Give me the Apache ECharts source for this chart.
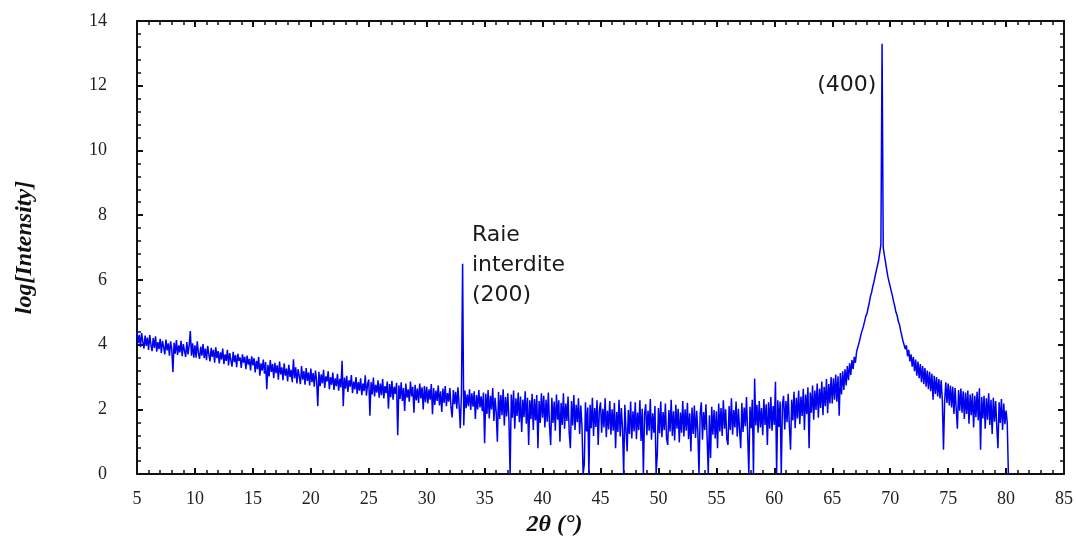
<!DOCTYPE html>
<html><head><meta charset="utf-8">
<script src="https://cdn.jsdelivr.net/npm/echarts@6/dist/echarts.min.js"></script>
<style>html,body{margin:0;padding:0;background:#fff}#c{width:1076px;height:542px}</style>
</head><body><div id="c"></div>
<script>
// axes
const xRange = [5, 85], xInterval = 5;
const yRange = [0, 14], yInterval = 2;
const xTitle = '2θ (°)';
const yTitle = 'log[Intensity]';
// sampling grid of the scan (degrees 2θ)
const scanStart = 5.0, scanStep = 0.1;

// log intensity, 0.1° steps, one array per 5° block
const logI_05 = [4.42,4.05,4.30,3.92,4.36,4.10,3.88,4.28,3.96,4.22, 3.84,4.30,4.00,3.80,4.20,3.90,4.26,3.78,4.08,3.86,
  4.18,3.74,4.12,3.92,3.70,4.16,3.82,4.04,3.66,4.10, 3.86,3.15,4.06,3.72,4.14,3.68,3.98,3.76,4.12,3.64,
  4.02,3.80,3.62,4.08,3.70,3.96,4.42,3.66,4.04,3.60];
const logI_10 = [3.98,3.60,4.10,3.74,3.56,3.94,3.66,4.02,3.58,3.88, 3.52,3.96,3.70,3.48,3.90,3.62,3.84,3.44,3.92,3.58,
  3.80,3.42,3.76,3.54,3.88,3.40,3.70,3.50,3.84,3.36, 3.74,3.52,3.32,3.78,3.46,3.68,3.30,3.72,3.50,3.60,
  3.28,3.70,3.44,3.62,3.24,3.66,3.38,3.56,3.20,3.64];
const logI_15 = [3.36,3.58,3.14,3.50,3.24,3.62,3.04,3.42,3.20,3.54, 3.10,3.46,2.62,3.38,3.02,3.52,3.16,3.40,2.96,3.44,
  3.12,3.36,2.92,3.48,3.08,3.30,2.90,3.42,3.04,3.26, 2.86,3.38,3.00,3.22,2.84,3.55,2.96,3.30,2.80,3.24,
  3.02,2.78,3.34,2.92,3.18,2.76,3.28,2.88,3.14,2.74];
const logI_20 = [3.26,2.84,3.12,2.70,3.20,2.90,2.10,3.16,2.72,3.08, 2.80,3.22,2.66,3.02,2.86,3.18,2.62,3.00,2.76,3.14,
  2.60,2.96,2.72,3.10,2.58,2.94,2.68,3.50,2.10,2.98, 2.64,3.04,2.54,2.90,2.70,3.06,2.50,2.86,2.62,3.00,
  2.48,2.84,2.58,2.96,2.44,2.80,2.56,3.05,2.42,2.78];
const logI_25 = [2.92,1.80,2.84,2.46,2.98,2.40,2.76,2.52,2.90,2.36, 2.80,2.44,2.94,2.34,2.72,2.50,2.86,2.02,2.78,2.38,
  2.88,2.30,2.70,2.48,2.82,1.20,2.74,2.32,2.84,2.26, 2.66,1.95,2.80,2.36,2.62,2.24,2.86,2.40,2.70,1.90,
  2.76,2.28,2.64,2.20,2.80,2.34,2.68,2.00,2.72,2.22];
const logI_30 = [2.70,2.18,2.62,2.30,2.78,1.85,2.66,2.14,2.58,2.26, 2.74,2.12,2.56,1.92,2.64,2.20,2.72,2.10,2.50,2.24,
  2.66,2.06,1.75,2.60,2.16,2.54,2.02,2.68,2.12,1.42, 2.48,6.50,1.50,2.58,2.04,2.46,2.10,2.62,1.98,2.50,
  2.08,2.56,1.70,2.44,2.00,2.60,2.06,2.40,1.94,2.52];
const logI_35 = [0.95,2.48,1.86,2.60,1.72,2.42,2.00,2.66,1.64,2.36, 1.90,1.00,2.54,1.70,2.44,1.82,2.62,1.50,2.38,1.78,
  2.50,1.66,0.00,2.46,1.74,2.58,1.40,2.34,1.80,2.52, 1.60,2.40,1.30,2.30,1.76,2.56,1.56,2.36,0.90,2.28,
  1.70,2.48,1.36,2.32,1.66,2.44,0.80,2.26,1.58,2.50];
const logI_40 = [1.74,2.42,1.44,2.30,1.62,2.52,1.50,0.90,2.36,1.58, 2.24,1.34,2.46,1.68,2.28,1.00,2.20,1.52,2.50,1.40,
  2.18,1.64,2.40,1.28,0.80,2.26,1.50,2.44,1.36,2.14, 1.60,2.34,1.24,2.12,1.48,0.00,0.30,2.22,1.32,2.06,
  0.00,2.14,1.42,2.36,1.18,2.04,1.46,2.28,0.90,1.96];
const logI_45 = [2.22,1.28,2.02,1.44,2.34,1.14,1.96,1.38,2.26,1.22, 2.00,1.34,2.20,0.80,1.92,1.30,2.30,1.16,2.04,1.40,
  0.00,2.14,1.36,0.70,1.98,1.24,2.24,1.10,1.94,1.32, 2.22,1.08,1.90,1.36,2.28,1.02,2.02,0.00,1.84,2.16,
  1.20,1.96,1.34,2.32,1.06,1.88,1.28,2.10,0.00,0.60];
const logI_50 = [2.04,1.26,2.24,1.14,1.92,1.36,2.18,1.10,0.90,1.98, 1.32,2.30,1.18,1.94,1.04,2.14,1.40,2.02,0.98,1.90,
  1.28,2.26,1.16,2.00,1.34,2.20,1.08,1.88,0.70,2.06, 1.24,2.12,1.12,1.96,1.30,0.00,1.86,2.22,1.06,1.92,
  1.36,2.16,1.14,0.00,1.82,0.50,2.08,1.22,1.98,1.10];
const logI_55 = [1.94,0.80,2.18,1.32,2.04,1.18,2.28,1.40,2.00,1.08, 0.90,2.10,1.36,2.34,1.22,1.98,1.44,2.24,1.16,2.02,
  1.38,0.80,2.20,1.30,2.06,1.48,2.38,1.24,0.00,2.08, 1.42,2.30,0.00,2.95,1.50,2.14,1.28,2.26,1.44,2.04,
  1.20,2.32,1.52,2.16,0.90,2.22,1.40,2.38,1.34,2.10];
const logI_60 = [1.52,2.85,0.00,2.28,1.46,2.24,0.00,2.14,2.42,1.38, 2.26,1.60,2.48,1.48,0.75,2.30,1.66,2.54,1.42,2.36,
  1.72,2.58,1.54,2.40,1.80,2.64,1.36,2.46,1.86,2.68, 0.80,2.52,1.90,2.74,1.68,2.58,1.98,2.80,1.74,2.64,
  2.04,2.86,1.82,2.70,2.10,2.94,1.88,2.78,2.18,3.00];
const logI_65 = [2.18,2.96,2.30,3.08,2.24,3.02,1.80,3.12,2.46,3.18, 2.60,3.24,2.74,3.34,2.90,3.42,3.06,3.52,3.24,3.62,
  3.44,3.78,3.72,4.04,3.98,4.34,4.30,4.58,4.62,4.88, 4.96,5.14,5.30,5.50,5.62,5.80,5.94,6.12,6.28,6.44,
  6.60,6.84,7.10,13.30,7.00,6.76,6.54,6.32,6.10,5.94];
const logI_70 = [5.80,5.64,5.50,5.32,5.18,5.00,4.90,4.72,4.62,4.44, 4.40,4.12,4.08,3.86,3.98,3.64,3.84,3.48,3.70,3.32,
  3.62,3.18,3.54,3.04,3.48,2.96,3.40,2.84,3.34,2.78, 3.28,2.70,3.20,2.62,3.16,2.56,3.10,2.30,3.04,2.48,
  3.00,2.40,2.94,2.34,2.90,2.28,0.75,2.26,2.84,2.20];
const logI_75 = [2.80,2.12,2.74,2.06,2.70,1.86,2.66,2.00,1.40,2.60, 1.96,2.64,1.90,2.56,1.70,2.52,1.86,2.58,1.56,2.46,
  1.82,2.50,1.44,2.42,1.76,2.54,1.66,2.65,0.75,2.38, 1.72,2.42,1.40,2.34,1.68,2.50,1.52,2.30,1.24,2.36,
  1.62,2.26,1.46,0.80,2.22,1.58,2.32,1.36,2.18,1.54];
const logI_80 = [1.96,1.60,0.00];

// annotations: [2θ, log I] anchor of each text
const peakNotes = [
  { text: '(400)', at: [68.8, 12.0], align: 'right' },
  { text: 'Raie\ninterdite\n(200)', at: [33.9, 6.45], align: 'left' }
];

const logI = [].concat(logI_05, logI_10, logI_15, logI_20, logI_25, logI_30, logI_35, logI_40,
  logI_45, logI_50, logI_55, logI_60, logI_65, logI_70, logI_75, logI_80);
const scan = logI.map((v, i) => [+(scanStart + i * scanStep).toFixed(1), v]);

const serif = '"Liberation Serif", "Times New Roman", serif';
function axis(kind, pos, showLabels) {
  const isX = kind === 'x';
  return {
    type: 'value', position: pos,
    min: isX ? xRange[0] : yRange[0], max: isX ? xRange[1] : yRange[1],
    interval: isX ? xInterval : yInterval,
    axisLine: { show: true, onZero: false, lineStyle: { color: '#111', width: 2 } },
    axisTick: { show: true, inside: true, length: 6, lineStyle: { color: '#111', width: 2 } },
    minorTick: { show: true, splitNumber: 5, length: 4, lineStyle: { color: '#111', width: 1.5 } },
    splitLine: { show: false }, minorSplitLine: { show: false },
    axisLabel: {
      show: showLabels, showMinLabel: true, showMaxLabel: true,
      margin: isX ? 16 : 30, color: '#222', fontFamily: serif, fontSize: 18
    }
  };
}
const xBottom = axis('x', 'bottom', true);
xBottom.name = xTitle; xBottom.nameLocation = 'middle'; xBottom.nameGap = 36;
xBottom.nameTextStyle = { fontFamily: serif, fontSize: 24, fontWeight: 'bold', fontStyle: 'italic', color: '#111', padding: [0, 92, 0, 0] };
const yLeft = axis('y', 'left', true);
yLeft.name = yTitle; yLeft.nameLocation = 'middle'; yLeft.nameGap = 100;
yLeft.nameTextStyle = { fontFamily: serif, fontSize: 24, fontWeight: 'bold', fontStyle: 'italic', color: '#111' };

const chart = echarts.init(document.getElementById('c'), null, { renderer: 'canvas' });
chart.setOption({
  animation: false,
  backgroundColor: '#fff',
  grid: { left: 137, right: 11, top: 21, bottom: 61, containLabel: false },
  xAxis: [xBottom, axis('x', 'top', false)],
  yAxis: [yLeft, axis('y', 'right', false)],
  series: [{
    type: 'line', xAxisIndex: 0, yAxisIndex: 0, data: scan,
    showSymbol: false, symbol: 'none', clip: true,
    lineStyle: { color: '#0000f0', width: 1.5 },
    markPoint: {
      symbol: 'circle', symbolSize: 0, silent: true, animation: false,
      itemStyle: { color: 'transparent' },
      data: peakNotes.map(n => ({
        coord: n.at,
        label: {
          show: true, position: 'inside', formatter: n.text, align: n.align, verticalAlign: 'middle',
          color: '#1a1a1a', fontFamily: '"DejaVu Sans", Verdana, sans-serif', fontSize: 22, lineHeight: 30
        }
      }))
    }
  }]
});
</script>
</body></html>
